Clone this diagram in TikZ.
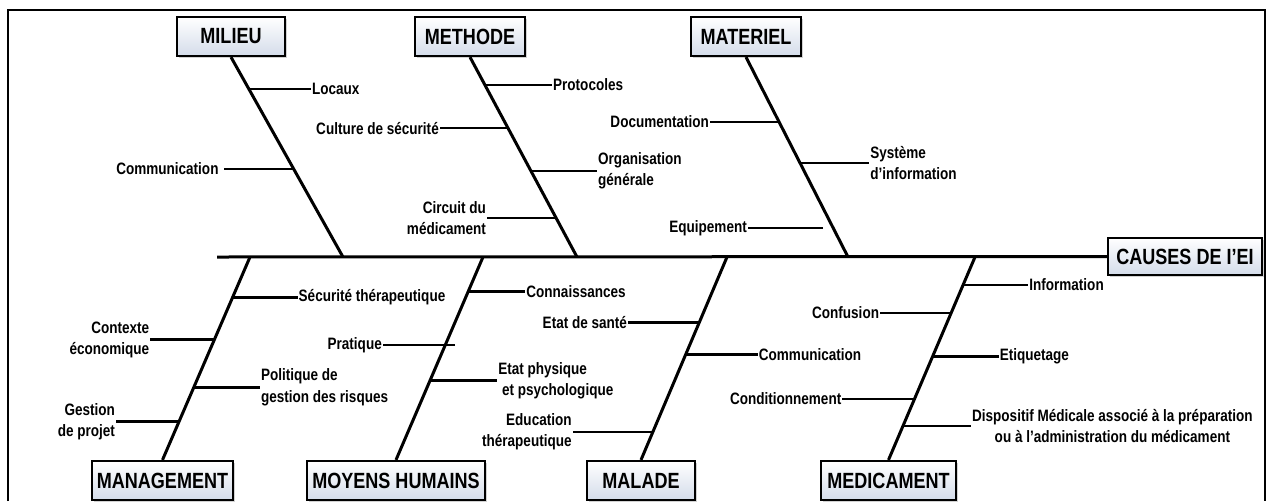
\documentclass[tikz,border=0pt]{standalone}
\usepackage{fontspec}
\setmainfont{Liberation Sans}[FakeStretch=0.82]
\usepackage{tikz}
\usetikzlibrary{positioning,shadows}
\definecolor{boxblue}{RGB}{212,220,234}

\tikzset{
  catbox/.style={draw, line width=2.2pt, top color=white, bottom color=boxblue,
    drop shadow={shadow xshift=1.5pt, shadow yshift=-1.5pt, fill=black!35},
    minimum height=39pt, inner sep=0pt, font=\fontsize{22}{26}\selectfont\bfseries},
  bone/.style={line width=3pt},
  twig/.style={line width=2.6pt},
  lbl/.style={inner sep=1pt, font=\fontsize{16.5}{21}\selectfont\bfseries},
  frame/.style={line width=2.6pt}
}

\begin{document}
\begin{tikzpicture}[x=1pt,y=-1pt]
  \useasboundingbox (0,0) rectangle (1273,501);
  \draw[frame] (8,501) -- (8,10) -- (1265,10) -- (1265,501);

  % categories
  \node[catbox, minimum width=108pt] (milieu)     at (231,36.5)  {MILIEU};
  \node[catbox, minimum width=110pt] (methode)    at (470,36.5)  {METHODE};
  \node[catbox, minimum width=110pt] (materiel)   at (746,36.5)  {MATERIEL};
  \node[catbox, minimum width=141pt] (management) at (162.5,480.5) {MANAGEMENT};
  \node[catbox, minimum width=178pt] (moyens)     at (396,480.5) {MOYENS HUMAINS};
  \node[catbox, minimum width=108pt] (malade)     at (641,480.5) {MALADE};
  \node[catbox, minimum width=135pt] (medicament) at (888.5,480.5) {MEDICAMENT};
  \node[catbox, minimum width=154pt, minimum height=37pt] (causes) at (1185,256.5) {CAUSES DE I’EI};

  % spine
  \coordinate (spine) at (217,257);
  \draw[bone] (spine) -- (causes);

  % bones and their branch points
  \draw[bone] (milieu.south) -- (343,257) coordinate (ms)
    coordinate[pos=.16] (loc-p) coordinate[pos=.56] (com-p);
  \draw[bone] (methode.south) -- (577,257) coordinate (mes)
    coordinate[pos=.14] (pro-p) coordinate[pos=.355] (cul-p)
    coordinate[pos=.57] (org-p) coordinate[pos=.805] (cir-p);
  \draw[bone] (materiel.south) -- (848,257) coordinate (mas)
    coordinate[pos=.325] (doc-p) coordinate[pos=.53] (sys-p);
  \draw[bone] (250,257) coordinate (mgs) -- (management.north)
    coordinate[pos=.20] (sec-p) coordinate[pos=.407] (ctx-p)
    coordinate[pos=.642] (pol-p) coordinate[pos=.81] (ges-p);
  \draw[bone] (483,257) coordinate (mhs) -- (moyens.north)
    coordinate[pos=.17] (con-p) coordinate[pos=.608] (eta-p);
  \draw[bone] (727,257) coordinate (mls) -- (malade.north)
    coordinate[pos=.324] (san-p) coordinate[pos=.48] (cmm-p) coordinate[pos=.863] (edu-p);
  \draw[bone] (975,257) coordinate (mds) -- (medicament.north)
    coordinate[pos=.137] (inf-p) coordinate[pos=.275] (cnf-p)
    coordinate[pos=.49] (etq-p) coordinate[pos=.70] (cdt-p) coordinate[pos=.833] (dsp-p);
  \coordinate (eqp-p) at (823,228);
  \coordinate (pra-p) at (455,345);

  % causes
  \node[lbl, right=62pt of loc-p] (loc) {Locaux};
  \node[lbl, left=70pt of com-p, inner xsep=5pt] (com) {Communication};
  \node[lbl, right=67pt of pro-p] (pro) {Protocoles};
  \node[lbl, left=68pt of cul-p] (cul) {Culture de sécurité};
  \node[lbl, right=66pt of org-p, align=left] (org) {Organisation\\générale};
  \node[lbl, left=69pt of cir-p, align=right] (cir) {Circuit du\\médicament};
  \node[lbl, left=69pt of doc-p] (doc) {Documentation};
  \node[lbl, right=69pt of sys-p, align=left] (sys) {Système\\d’information};
  \node[lbl, left=75pt of eqp-p] (eqp) {Equipement};
  \node[lbl, right=65pt of sec-p] (sec) {Sécurité thérapeutique};
  \node[lbl, left=64pt of ctx-p, align=right] (ctx) {Contexte\\économique};
  \node[lbl, right=66pt of pol-p, align=left] (pol) {Politique de\\gestion des risques};
  \node[lbl, left=63pt of ges-p, align=right] (ges) {Gestion\\de projet};
  \node[lbl, right=57pt of con-p] (con) {Connaissances};
  \node[lbl, left=72pt of pra-p] (pra) {Pratique};
  \node[lbl, right=67pt of eta-p, align=left] (eta) {Etat physique\\\ et psychologique};
  \node[lbl, left=71pt of san-p] (san) {Etat de santé};
  \node[lbl, right=72pt of cmm-p] (cmm) {Communication};
  \node[lbl, left=80pt of edu-p, align=right] (edu) {Education\\thérapeutique};
  \node[lbl, right=65pt of inf-p] (inf) {Information};
  \node[lbl, left=71pt of cnf-p] (cnf) {Confusion};
  \node[lbl, right=66pt of etq-p] (etq) {Etiquetage};
  \node[lbl, left=72pt of cdt-p] (cdt) {Conditionnement};
  \node[lbl, right=68pt of dsp-p, align=center] (dsp) {Dispositif Médicale associé à la préparation\\ou à l’administration du médicament};

  \foreach \c in {loc,com,pro,cul,org,cir,doc,sys,eqp,sec,ctx,pol,ges,con,pra,eta,san,cmm,edu,inf,cnf,etq,cdt,dsp}
    \draw[twig] (\c-p) -- (\c);
\end{tikzpicture}
\end{document}
